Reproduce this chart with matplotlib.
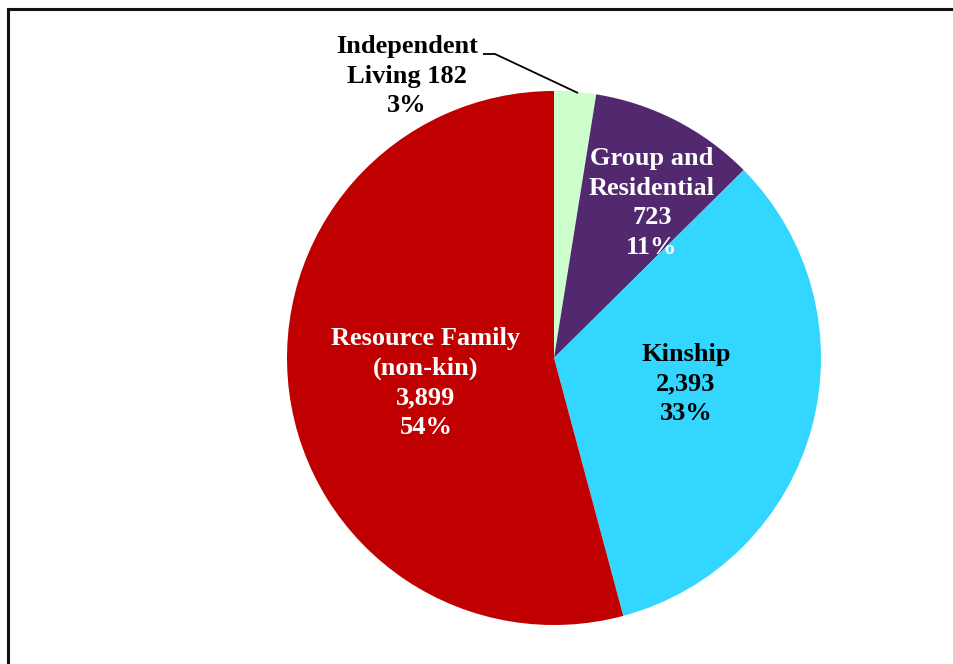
import matplotlib
matplotlib.use("Agg")
import matplotlib.pyplot as plt
from matplotlib.patches import Rectangle

# placement data
categories = ["Independent\nLiving", "Group and\nResidential", "Kinship", "Resource Family\n(non-kin)"]
counts = [182, 723, 2393, 3899]
percents = ["3%", "11%", "33%", "54%"]
colors = ["#CCFFCC", "#52296F", "#33D6FF", "#C00000"]
text_colors = ["black", "white", "black", "white"]

W, H = 954, 664
fig = plt.figure(figsize=(W / 100, H / 100), dpi=100)
ax = fig.add_axes([0, 0, 1, 1])
ax.set_xlim(0, W)
ax.set_ylim(0, H)
ax.set_aspect("equal")
ax.axis("off")

# frame around the chart area (runs off right and bottom)
ax.add_patch(Rectangle((8.5, -20), W + 40, H - 9 + 20, fill=False,
                       edgecolor="#111111", linewidth=2.2))

cx, cy, r = 554, H - 358, 267
ax.pie(counts, colors=colors, startangle=90, counterclock=False,
       center=(cx, cy), radius=r, frame=True,
       wedgeprops=dict(linewidth=0))
ax.set_xlim(0, W)
ax.set_ylim(0, H)
ax.axis("off")

font = dict(family="Liberation Serif", fontweight="bold", fontsize=19,
            ha="center", va="center", linespacing=1.36)

# label texts
labels = []
for i, (cat, n, p) in enumerate(zip(categories, counts, percents)):
    if i == 0:
        labels.append("Independent\nLiving {:,}\n{}".format(n, p))
    else:
        labels.append("{}\n{:,}\n{}".format(cat, n, p))

label_pos = [(407, 76), (652, 203), (686, 384), (426, 383)]
for txt, (x, y), c in zip(labels, label_pos, text_colors):
    ax.text(x, H - y, txt, color=c, **font)

# leader line for the small slice
ax.plot([483, 495, 578], [H - 54, H - 54, H - 93], color="black", lw=1.3,
        solid_capstyle="butt")

fig.savefig("out.png", dpi=100, facecolor="white")
